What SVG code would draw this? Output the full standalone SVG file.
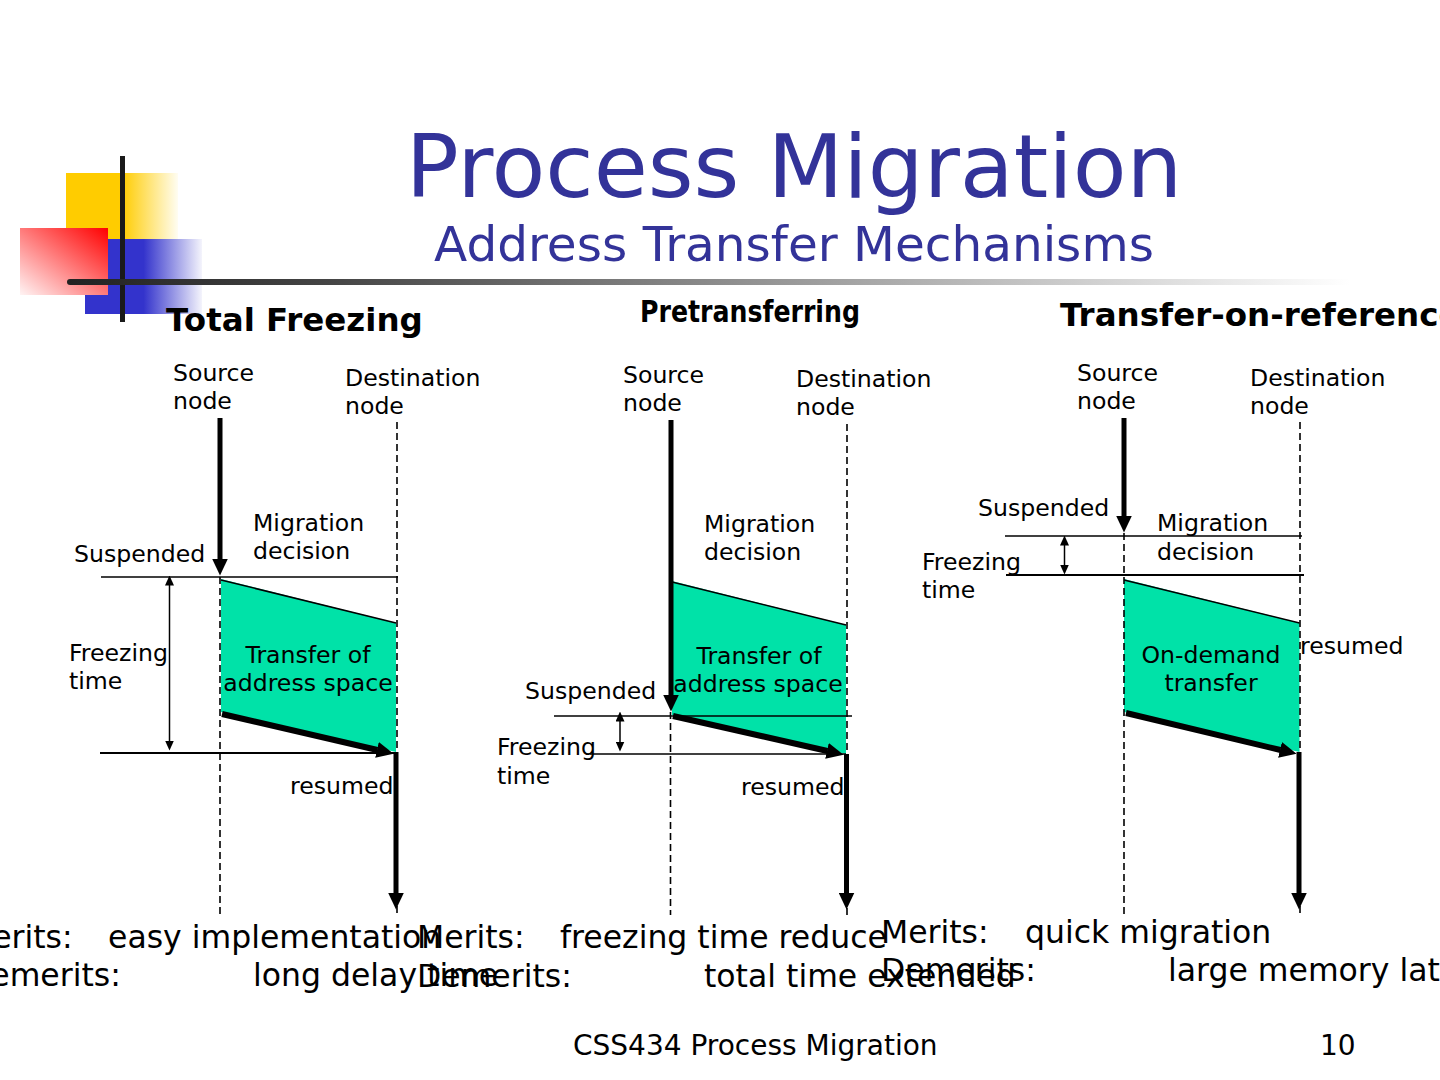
<svg xmlns="http://www.w3.org/2000/svg" width="1440" height="1080" viewBox="0 0 1440 1080">
<defs>
<style>
text{font-family:"DejaVu Sans","Liberation Sans",sans-serif;fill:#000}
.lbl{font-size:23.6px}
.mid{text-anchor:middle}
.hd{font-size:32.5px;font-weight:bold}
.bt{font-size:31.5px}
.thin{stroke:#000;stroke-width:1.5;fill:none}
.bar{stroke:#000;stroke-width:2.2;fill:none}
.dash{stroke:#000;stroke-width:1.6;stroke-dasharray:7 4;fill:none}
.thick{stroke:#000;stroke-width:5;fill:none}
.diag{stroke:#000;stroke-width:6;fill:none}
.ah{marker-end:url(#big)}
.dbl{stroke:#000;stroke-width:1.5;marker-start:url(#small);marker-end:url(#small)}
.tz{fill:#00E2A8;stroke:none}
</style>
<marker id="big" viewBox="0 0 17 16" markerWidth="17" markerHeight="16" refX="0.5" refY="8" orient="auto" markerUnits="userSpaceOnUse"><path d="M0,0 L17,8 L0,16 z" fill="#000"/></marker>
<marker id="small" viewBox="0 0 10 9" markerWidth="10" markerHeight="9" refX="0.5" refY="4.5" orient="auto-start-reverse" markerUnits="userSpaceOnUse"><path d="M0,0 L10,4.5 L0,9 z" fill="#000"/></marker>
<linearGradient id="gy" x1="0" y1="0" x2="1" y2="0"><stop offset="0" stop-color="#FFCC00"/><stop offset="0.5" stop-color="#FFCC00"/><stop offset="1" stop-color="#FFFDF2"/></linearGradient>
<linearGradient id="gb" x1="0" y1="0" x2="1" y2="0"><stop offset="0" stop-color="#3333CC"/><stop offset="0.5" stop-color="#3333CC"/><stop offset="1" stop-color="#F4F4FC"/></linearGradient>
<linearGradient id="gr" x1="1" y1="0" x2="0" y2="1"><stop offset="0" stop-color="#FF0000"/><stop offset="1" stop-color="#FFF4F4"/></linearGradient>
<linearGradient id="gl" gradientUnits="userSpaceOnUse" x1="68" y1="0" x2="1350" y2="0"><stop offset="0" stop-color="#222222"/><stop offset="0.2" stop-color="#444444"/><stop offset="1" stop-color="#FFFFFF"/></linearGradient>
</defs>
<rect width="1440" height="1080" fill="#fff"/>
<g id="logo">
<rect x="66" y="173" width="112" height="67" fill="url(#gy)"/>
<rect x="85" y="239" width="117" height="75" fill="url(#gb)"/>
<rect x="20" y="228" width="88" height="67" fill="url(#gr)"/>
<line x1="122.5" y1="156" x2="122.5" y2="322" stroke="#1a1a1a" stroke-width="5"/>
<line x1="70" y1="282" x2="1360" y2="282" stroke="url(#gl)" stroke-width="6" stroke-linecap="round"/>
</g>
<g id="title">
<text x="794" y="197" text-anchor="middle" style="font-size:88px;fill:#333399">Process Migration</text>
<text x="794" y="261" text-anchor="middle" style="font-size:48.5px;fill:#333399">Address Transfer Mechanisms</text>
</g>
<g id="headings">
<text class="hd" x="166" y="331">Total Freezing</text>
<text class="hd" x="640" y="322" textLength="220" lengthAdjust="spacingAndGlyphs" style="font-size:31px">Pretransferring</text>
<text class="hd" x="1060" y="326">Transfer-on-reference</text>
</g>
<g id="diagram-total-freezing">
<polygon class="tz" points="221,579 396,623 396,752 221,712"/>
<text class="lbl" x="173" y="381">Source</text><text class="lbl" x="173" y="409">node</text>
<text class="lbl" x="345" y="386">Destination</text><text class="lbl" x="345" y="414">node</text>
<text class="lbl" x="253" y="531">Migration</text><text class="lbl" x="253" y="559">decision</text>
<text class="lbl" x="74" y="562">Suspended</text>
<text class="lbl" x="69" y="661">Freezing</text><text class="lbl" x="69" y="689">time</text>
<text class="lbl mid" x="308" y="663">Transfer of</text><text class="lbl mid" x="308" y="691">address space</text>
<text class="lbl" x="290" y="794">resumed</text>
</g>
<g id="diagram-pretransferring">
<polygon class="tz" points="672,581 846,625 846,754 672,715"/>
<text class="lbl" x="623" y="383">Source</text><text class="lbl" x="623" y="411">node</text>
<text class="lbl" x="796" y="387">Destination</text><text class="lbl" x="796" y="415">node</text>
<text class="lbl" x="704" y="532">Migration</text><text class="lbl" x="704" y="560">decision</text>
<text class="lbl" x="525" y="699">Suspended</text>
<text class="lbl" x="497" y="755">Freezing</text><text class="lbl" x="497" y="784">time</text>
<text class="lbl mid" x="759" y="664">Transfer of</text><text class="lbl mid" x="758" y="692">address space</text>
<text class="lbl" x="741" y="795">resumed</text>
</g>
<g id="diagram-transfer-on-reference">
<polygon class="tz" points="1124,579 1299.5,623 1299.5,752 1124,712"/>
<text class="lbl" x="1077" y="381">Source</text><text class="lbl" x="1077" y="409">node</text>
<text class="lbl" x="1250" y="386">Destination</text><text class="lbl" x="1250" y="414">node</text>
<text class="lbl" x="1157" y="531">Migration</text><text class="lbl" x="1157" y="560">decision</text>
<text class="lbl" x="978" y="516">Suspended</text>
<text class="lbl" x="922" y="570">Freezing</text><text class="lbl" x="922" y="598">time</text>
<text class="lbl mid" x="1211" y="663">On-demand</text><text class="lbl mid" x="1211" y="691">transfer</text>
<text class="lbl" x="1300" y="654">resumed</text>
</g>
<g id="connectors">
<line class="thin" x1="221" y1="580" x2="396" y2="623"/>
<line class="dash" x1="220" y1="577" x2="220" y2="915"/>
<line class="dash" x1="397" y1="422" x2="397" y2="915"/>
<line class="thin" x1="101" y1="577" x2="398" y2="577"/>
<line class="bar" x1="100" y1="753" x2="394" y2="753"/>
<line class="thick ah" x1="220" y1="418" x2="220" y2="559"/>
<line class="dbl" x1="169.5" y1="585" x2="169.5" y2="741"/>
<line class="diag ah" x1="222" y1="714" x2="377.5" y2="750"/>
<line class="thick ah" x1="396" y1="752" x2="396" y2="893"/>
<line class="thin" x1="672" y1="582" x2="846" y2="625"/>
<line class="dash" x1="670.5" y1="712" x2="670.5" y2="915"/>
<line class="dash" x1="847" y1="424" x2="847" y2="915"/>
<line class="thin" x1="554" y1="716" x2="852" y2="716"/>
<line class="thin" x1="590" y1="754" x2="846" y2="754"/>
<line class="thick ah" x1="671" y1="420" x2="671" y2="695"/>
<line class="dbl" x1="620" y1="721" x2="620" y2="742"/>
<line class="diag ah" x1="673" y1="716" x2="827.5" y2="751"/>
<line class="thick ah" x1="846.5" y1="754" x2="846.5" y2="893"/>
<line class="thin" x1="1124" y1="580" x2="1299.5" y2="623"/>
<line class="dash" x1="1124" y1="533" x2="1124" y2="915"/>
<line class="dash" x1="1300" y1="422" x2="1300" y2="915"/>
<line class="thin" x1="1005" y1="536" x2="1302" y2="536"/>
<line class="bar" x1="1006" y1="575" x2="1304" y2="575"/>
<line class="thick ah" x1="1124" y1="418" x2="1124" y2="516"/>
<line class="dbl" x1="1064.5" y1="545" x2="1064.5" y2="565"/>
<line class="diag ah" x1="1126" y1="713" x2="1280.5" y2="750"/>
<line class="thick ah" x1="1299" y1="752" x2="1299" y2="893"/>
</g>
<g id="merits">
<text class="bt" x="-35" y="948">Merits:</text><text class="bt" x="108" y="948">easy implementation</text>
<text class="bt" x="-34" y="986">Demerits:</text><text class="bt" x="253" y="986">long delay time</text>
<text class="bt" x="417" y="948">Merits:</text><text class="bt" x="560" y="948">freezing time reduce</text>
<text class="bt" x="417" y="987">Demerits:</text><text class="bt" x="704" y="987">total time extended</text>
<text class="bt" x="881" y="943">Merits:</text><text class="bt" x="1025" y="943">quick migration</text>
<text class="bt" x="881" y="981">Demerits:</text><text class="bt" x="1168" y="981">large memory latency</text>
</g>
<g id="footer">
<text x="573" y="1055" style="font-size:28px">CSS434 Process Migration</text>
<text x="1320" y="1055" style="font-size:28px">10</text>
</g>
</svg>
